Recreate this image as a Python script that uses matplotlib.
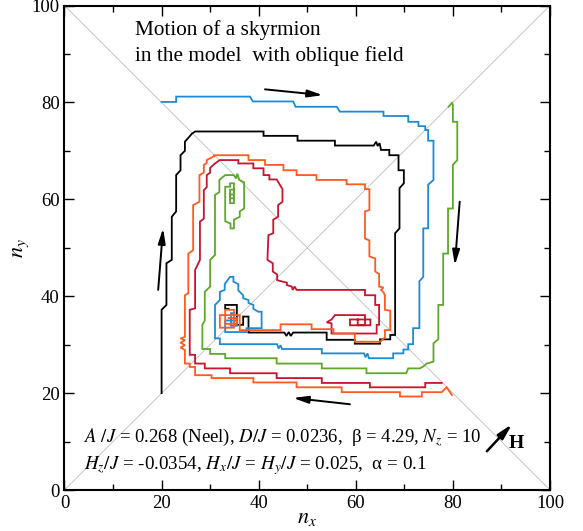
import matplotlib
matplotlib.use("Agg")
import matplotlib.pyplot as plt

plt.rcParams['font.family'] = ['Liberation Serif', 'DejaVu Serif']
plt.rcParams['mathtext.fontset'] = 'stix'

# ---------------- data (trajectories of the skyrmion centre) ----------------
black_x = [20.0, 20.0, 21.0, 21.0, 22.1, 22.1, 23.0, 23.0, 23.9, 23.9, 24.8, 24.8, 25.7, 26.2, 26.9,
           41.0, 41.0, 48.0, 48.0, 55.7, 55.7, 63.7, 64.2, 64.5, 64.9, 65.2, 66.9, 66.9, 68.8, 68.8,
           69.9, 69.9, 69.0, 69.0, 68.1, 68.1, 67.1, 67.1, 65.0, 65.0, 59.8, 59.8, 54.0, 54.0, 47.1,
           46.6, 46.2, 45.7, 45.3, 37.9, 37.9, 36.8, 36.8, 35.5, 35.5, 33.1, 33.1, 33.8]
black_y = [20.0, 37.2, 38.2, 46.8, 47.5, 56.4, 57.5, 65.0, 66.0, 69.1, 70.0, 71.9, 72.9, 73.5, 74.0,
           74.0, 73.1, 73.1, 72.1, 72.1, 71.1, 71.1, 71.9, 71.0, 71.6, 70.2, 70.2, 69.1, 69.1, 66.0,
           66.0, 63.3, 62.3, 54.0, 53.0, 32.0, 32.0, 31.1, 31.1, 30.2, 30.2, 31.0, 31.0, 32.5, 32.5,
           31.8, 32.6, 31.8, 32.5, 32.5, 35.8, 35.8, 34.1, 34.1, 38.2, 38.2, 37.4, 37.4]

blue_x = [20.0, 23.0, 23.0, 38.2, 38.8, 47.1, 47.6, 56.1, 56.7, 65.7, 65.7, 70.8, 70.8, 72.9, 72.9,
          74.3, 74.3, 74.9, 74.9, 76.0, 76.0, 74.9, 74.9, 73.9, 73.9, 73.1, 73.1, 71.8, 71.8, 70.8,
          70.8, 69.8, 69.8, 67.7, 67.7, 62.7, 62.4, 62.0, 61.7, 53.0, 53.0, 44.8, 44.5, 44.1, 43.8,
          32.0, 32.0, 31.0, 31.0, 32.0, 32.0, 33.0, 33.0, 34.1, 34.8, 34.8, 35.8, 35.8, 36.8, 36.8,
          37.9, 37.9, 38.9, 38.9, 39.9, 40.6, 40.6, 37.5, 37.5, 33.1, 33.1, 35.5, 35.5, 34.3, 34.3, 35.0]
blue_y = [80.1, 80.1, 81.2, 81.2, 80.2, 80.2, 79.1, 79.1, 78.1, 78.1, 77.2, 77.2, 76.0, 76.0, 75.1,
          75.1, 74.3, 74.3, 72.1, 72.1, 64.0, 63.0, 54.0, 54.0, 44.0, 43.1, 33.4, 33.4, 30.1, 30.1,
          29.0, 29.0, 28.2, 28.2, 27.2, 27.2, 28.2, 27.4, 28.2, 28.2, 29.1, 29.1, 29.9, 29.2, 30.1,
          30.1, 31.3, 31.3, 38.2, 39.2, 40.9, 41.3, 42.5, 44.0, 44.0, 43.0, 42.5, 41.2, 40.2, 39.6,
          39.2, 38.6, 38.2, 37.4, 36.8, 36.8, 33.4, 33.4, 32.6, 32.6, 35.0, 35.0, 33.9, 33.9, 36.5, 36.5]

green_x = [79.1, 79.8, 80.0, 80.0, 80.9, 80.9, 80.0, 80.0, 79.0, 79.0, 78.0, 78.0, 77.0, 77.0, 76.0,
           76.0, 74.6, 73.9, 73.2, 70.8, 70.4, 62.2, 62.2, 53.0, 53.0, 43.7, 43.7, 33.1, 33.1, 30.0,
           30.0, 28.4, 28.4, 28.9, 28.9, 30.0, 30.0, 31.0, 31.0, 31.9, 31.9, 33.1, 34.9, 35.3, 35.6,
           36.0, 37.0, 37.0, 36.1, 36.1, 34.9, 34.9, 34.2, 34.2, 33.1, 33.1, 34.1, 34.1, 34.9, 34.9,
           34.1, 34.1, 34.9, 34.9, 34.1, 34.1, 34.9]
green_y = [79.1, 79.9, 79.5, 76.0, 76.0, 68.1, 67.1, 58.1, 58.1, 48.8, 48.8, 38.2, 38.2, 31.1, 30.3,
           26.5, 26.1, 25.5, 25.1, 25.1, 24.1, 24.1, 25.1, 25.1, 26.1, 26.1, 27.2, 27.2, 28.1, 28.1,
           29.1, 29.1, 34.1, 35.0, 40.9, 42.0, 47.5, 48.5, 60.9, 61.5, 64.0, 65.0, 65.0, 64.3, 65.3,
           64.0, 63.5, 58.1, 57.5, 56.4, 55.8, 54.0, 54.0, 55.0, 55.5, 62.6, 62.6, 63.3, 63.3, 59.2,
           59.2, 62.0, 62.0, 61.0, 61.0, 60.2, 60.2]

red_x = [77.7, 74.3, 74.3, 62.9, 62.9, 53.0, 53.0, 43.7, 43.7, 34.1, 34.1, 28.9, 28.9, 26.9, 26.9,
         25.8, 25.8, 26.9, 26.9, 27.9, 27.9, 28.7, 28.7, 29.3, 29.3, 30.0, 30.0, 31.0, 32.0, 35.8,
         35.8, 38.9, 38.9, 41.0, 41.0, 42.2, 42.2, 43.7, 44.9, 44.9, 44.0, 44.0, 43.0, 43.0, 42.0,
         41.8, 42.9, 42.9, 43.8, 43.8, 45.8, 45.8, 46.8, 47.0, 47.4, 47.8, 48.2, 61.9, 61.9, 64.0,
         64.0, 64.8, 64.8, 64.3, 64.3, 55.0, 55.0, 54.0, 55.0, 55.7, 61.9, 61.9, 63.0, 63.0, 58.8,
         58.8, 61.9, 61.9, 60.4, 60.4]
red_y = [22.1, 22.1, 21.2, 21.2, 22.1, 22.1, 23.1, 23.1, 24.1, 24.1, 25.1, 25.1, 26.1, 26.1, 27.9,
         27.9, 37.2, 37.5, 45.4, 47.5, 55.4, 56.0, 61.9, 62.5, 65.0, 65.5, 66.5, 67.4, 68.1, 68.1,
         67.4, 67.4, 66.4, 66.4, 65.0, 65.0, 64.1, 64.1, 62.1, 59.5, 58.8, 56.4, 55.8, 53.0, 52.6,
         47.5, 46.8, 45.1, 44.5, 43.3, 42.8, 42.3, 42.0, 41.3, 42.0, 41.3, 41.3, 41.3, 40.2, 40.2,
         38.2, 38.2, 34.1, 34.1, 32.3, 32.3, 34.4, 34.6, 35.2, 36.1, 36.1, 35.2, 35.2, 34.0, 34.0,
         35.2, 35.2, 34.0, 34.0, 35.2]

orange_x = [79.8, 78.7, 77.7, 73.6, 73.6, 69.1, 69.1, 57.1, 57.1, 47.8, 47.8, 38.9, 38.9, 30.3, 30.3,
            26.9, 26.9, 25.8, 25.8, 24.8, 24.8, 23.9, 24.8, 23.9, 24.8, 23.9, 24.8, 24.8, 25.5, 25.5,
            26.5, 26.5, 27.8, 27.8, 28.7, 28.7, 29.3, 29.3, 30.8, 30.8, 37.9, 37.9, 41.3, 41.3, 45.1,
            45.1, 47.8, 47.8, 51.9, 51.9, 58.1, 58.1, 61.9, 61.9, 62.8, 62.8, 61.9, 61.9, 62.8, 62.8,
            64.0, 64.0, 64.8, 64.8, 65.7, 65.2, 65.7, 66.0, 66.0, 67.1, 67.1, 66.0, 66.0, 65.0, 59.8,
            59.8, 55.4, 55.4, 50.9, 50.9, 44.5, 44.5, 36.1, 36.1, 32.0, 32.0, 34.9, 34.9, 33.1, 33.1,
            35.5, 35.5, 33.8]
orange_y = [19.6, 21.2, 20.2, 20.2, 19.3, 19.3, 20.2, 20.2, 21.2, 21.2, 22.2, 22.2, 23.1, 23.1, 23.7,
            23.7, 25.4, 25.4, 26.1, 26.1, 28.9, 29.4, 29.9, 30.4, 30.9, 31.3, 31.6, 40.2, 40.6, 48.8,
            49.5, 58.8, 59.5, 65.0, 65.5, 67.1, 67.5, 68.1, 68.9, 69.1, 69.1, 68.1, 68.1, 67.1, 67.1,
            66.0, 66.0, 65.0, 65.0, 64.0, 64.0, 63.1, 63.1, 62.1, 62.1, 57.8, 57.5, 51.9, 51.5, 48.2,
            47.8, 45.1, 44.6, 42.0, 41.8, 41.3, 40.8, 40.2, 37.2, 37.0, 33.0, 33.0, 31.5, 30.6, 30.6,
            32.3, 32.3, 33.2, 33.2, 34.2, 34.2, 33.0, 33.0, 36.1, 36.1, 33.5, 33.5, 37.2, 37.2, 34.3,
            34.3, 35.5, 35.5]

traj_colors = {'black': '#000000', 'blue': '#1b8bd6', 'green': '#5ea82a',
               'red': '#c8142c', 'orange': '#ff5a20'}

# arrows (tail -> head) showing the sense of motion
arrow_tails = [(41.3, 82.7), (81.4, 59.5), (58.8, 17.7), (19.3, 41.3)]
arrow_heads = [(53.2, 81.5), (80.4, 46.4), (47.1, 19.0), (20.3, 54.0)]
field_tail = (87.0, 8.0)
field_head = (92.2, 13.6)

# ---------------- figure ----------------
fig = plt.figure(figsize=(5.83, 5.31), dpi=100)
ax = fig.add_axes([0.1106, 0.0772, 0.8328, 0.9124])
ax.set_xlim(0, 100)
ax.set_ylim(0, 100)

ax.plot([0, 100], [0, 100], color='#b8b8b8', lw=0.55, zorder=1)
ax.plot([0, 100], [100, 0], color='#b8b8b8', lw=0.55, zorder=1)

for xs, ys, c in [(black_x, black_y, 'black'), (blue_x, blue_y, 'blue'),
                  (green_x, green_y, 'green'), (red_x, red_y, 'red'),
                  (orange_x, orange_y, 'orange')]:
    ax.plot(xs, ys, color=traj_colors[c], lw=1.3, zorder=3, solid_joinstyle='miter')

for t, h in zip(arrow_tails, arrow_heads):
    ax.annotate('', xy=h, xytext=t,
                arrowprops=dict(arrowstyle='-|>,head_length=0.9,head_width=0.22',
                                color='k', lw=1.4, shrinkA=0, shrinkB=0), zorder=5)
ax.annotate('', xy=field_head, xytext=field_tail,
            arrowprops=dict(arrowstyle='-|>,head_length=0.9,head_width=0.22',
                            color='k', lw=1.8, shrinkA=0, shrinkB=0), zorder=5)
ax.text(93.0, 9.5, 'H', fontsize=14, fontweight='bold', ha='center', va='center')

ax.text(14.5, 94.9, 'Motion of a skyrmion', fontsize=15.3, ha='left', va='center')
ax.text(14.5, 89.6, 'in the model  with oblique field', fontsize=15.3, ha='left', va='center')

ax.text(4.0, 10.9, r'$A\ /J$ = 0.268 (Neel), $D/J$ = 0.0236,  β = 4.29, $N_z$ = 10',
        fontsize=13.5, ha='left', va='center')
ax.text(4.0, 5.1, r'$H_z/J$ = -0.0354, $H_x/J$ = $H_y/J$ = 0.025,  α = 0.1',
        fontsize=13.7, ha='left', va='center')

ax.set_xticks([0, 20, 40, 60, 80, 100])
ax.set_yticks([0, 20, 40, 60, 80, 100])
ax.set_xticks(range(10, 100, 20), minor=True)
ax.set_yticks(range(10, 100, 20), minor=True)
ax.tick_params(which='both', direction='in', top=True, right=True, labelsize=13.5, width=1.0)
ax.tick_params(which='major', length=7)
ax.tick_params(which='minor', length=4)
for s in ax.spines.values():
    s.set_linewidth(1.5)

ax.set_xlabel(r'$n_x$', fontsize=16, labelpad=-2)
ax.set_ylabel(r'$n_y$', fontsize=16, labelpad=0)

fig.savefig('out.png', dpi=100)
